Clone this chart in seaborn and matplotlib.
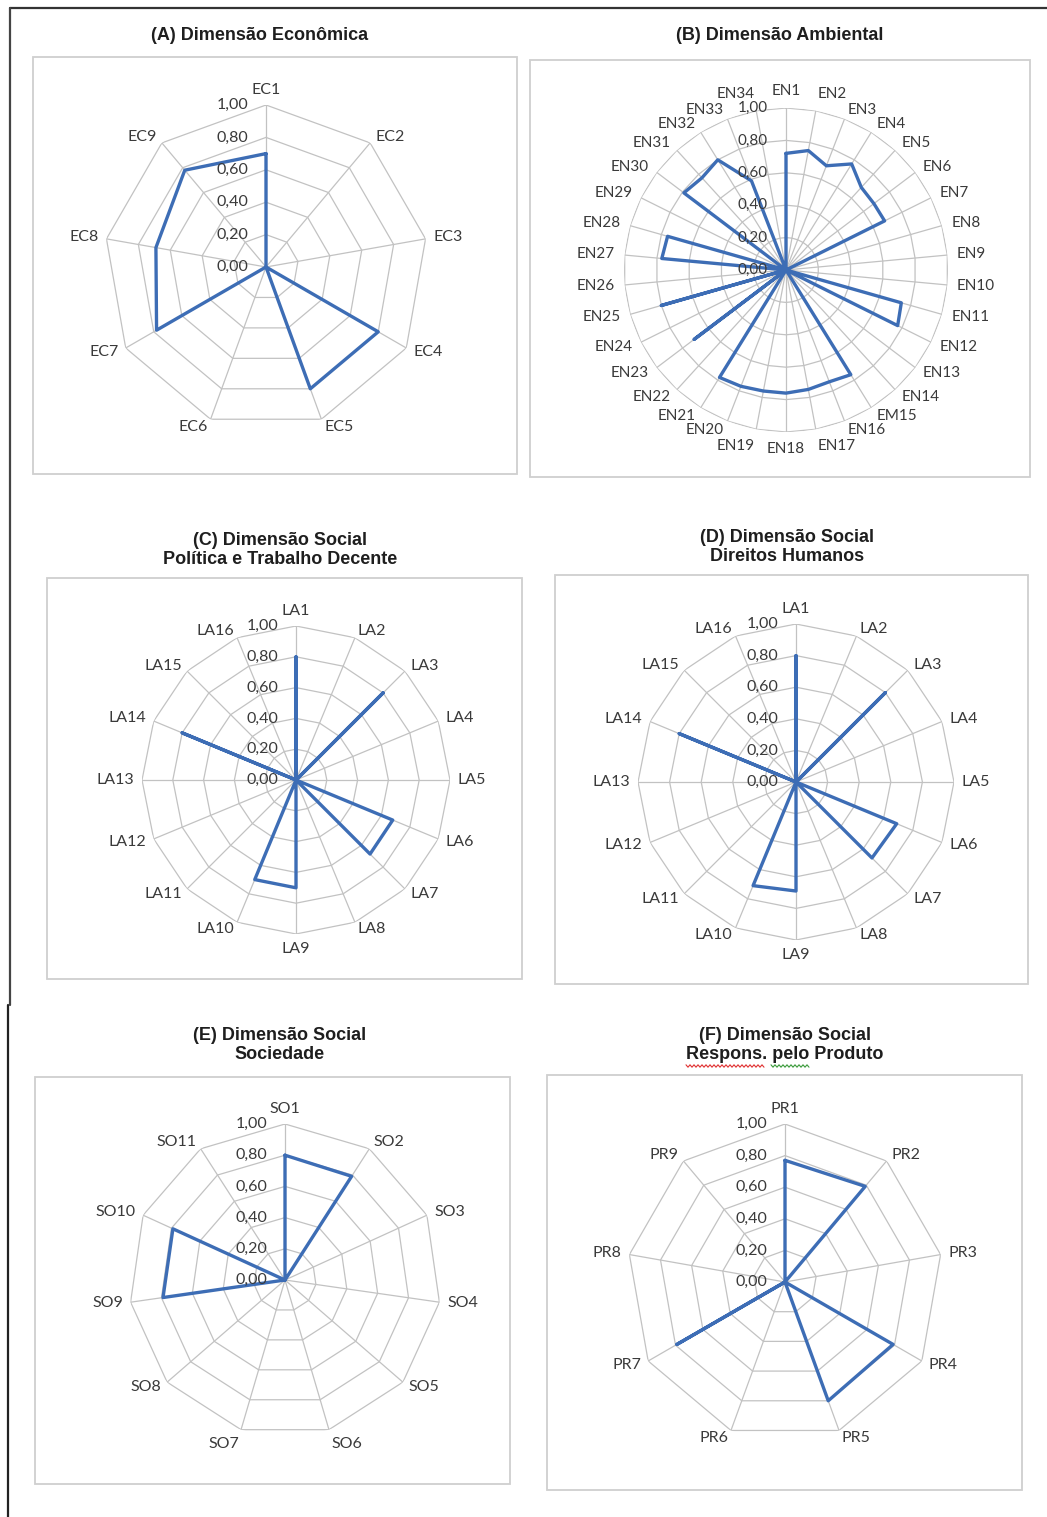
import numpy as np
import matplotlib
matplotlib.use("Agg")
import matplotlib.pyplot as plt
from matplotlib.patches import Rectangle
from matplotlib.lines import Line2D
import seaborn as sns

# ---- data -------------------------------------------------------------
ec_labels = ["EC1", "EC2", "EC3", "EC4", "EC5", "EC6", "EC7", "EC8", "EC9"]
ec_values = [0.70, 0.00, 0.00, 0.80, 0.80, 0.00, 0.78, 0.69, 0.78]

en_labels = ["EN1", "EN2", "EN3", "EN4", "EN5", "EN6", "EN7", "EN8", "EN9",
             "EN10", "EN11", "EN12", "EN13", "EN14", "EM15", "EN16", "EN17",
             "EN18", "EN19", "EN20", "EN21", "EN22", "EN23", "EN24", "EN25",
             "EN26", "EN27", "EN28", "EN29", "EN30", "EN31", "EN32", "EN33",
             "EN34"]
en_values = [0.72, 0.75, 0.69, 0.77, 0.69, 0.68, 0.68, 0.00, 0.00,
             0.00, 0.74, 0.77, 0.00, 0.00, 0.76, 0.74, 0.75,
             0.76, 0.76, 0.77, 0.78, 0.00, 0.71, 0.00, 0.80,
             0.00, 0.77, 0.76, 0.00, 0.79, 0.77, 0.80, 0.59,
             0.00]

la_labels = ["LA1", "LA2", "LA3", "LA4", "LA5", "LA6", "LA7", "LA8",
             "LA9", "LA10", "LA11", "LA12", "LA13", "LA14", "LA15", "LA16"]
la_work_values = [0.80, 0.00, 0.80, 0.00, 0.00, 0.68, 0.68, 0.00,
                  0.70, 0.70, 0.00, 0.00, 0.00, 0.80, 0.00, 0.00]
la_rights_values = [0.80, 0.00, 0.80, 0.00, 0.00, 0.69, 0.68, 0.00,
                    0.69, 0.71, 0.00, 0.00, 0.00, 0.80, 0.00, 0.00]

so_labels = ["SO1", "SO2", "SO3", "SO4", "SO5", "SO6", "SO7", "SO8",
             "SO9", "SO10", "SO11"]
so_values = [0.80, 0.79, 0.00, 0.00, 0.00, 0.00, 0.00, 0.00,
             0.79, 0.79, 0.00]

pr_labels = ["PR1", "PR2", "PR3", "PR4", "PR5", "PR6", "PR7", "PR8", "PR9"]
pr_values = [0.77, 0.79, 0.00, 0.79, 0.80, 0.00, 0.79, 0.00, 0.00]

r_ticks = [0.0, 0.2, 0.4, 0.6, 0.8, 1.0]
r_tick_labels = ["0,00", "0,20", "0,40", "0,60", "0,80", "1,00"]

titles = [
    "(A) Dimensão Econômica",
    "(B) Dimensão Ambiental",
    "(C) Dimensão Social\nPolítica e Trabalho Decente",
    "(D) Dimensão Social\nDireitos Humanos",
    "(E) Dimensão Social\nSociedade",
    "(F) Dimensão Social\nRespons. pelo Produto",
]

# ---- style ------------------------------------------------------------
sns.set_style("white")
plt.rcParams["font.family"] = ["Lato", "DejaVu Sans"]

W, H = 1047, 1517
fig = plt.figure(figsize=(W / 100, H / 100), dpi=100)
fig.patch.set_facecolor("white")

LINE_BLUE = "#3D6DB5"
GRID = "#C2C2C2"
TEXT = "#3A3A3A"
TITLE_FONT = ["Liberation Sans", "DejaVu Sans"]


def fx(x):
    return x / W


def fy(y):
    return 1 - y / H


def radar(labels, values, cx, cy, R, box, title, title_xy,
          label_size=11.5, label_pad=1.05):
    # chart-area frame
    x0, y0, x1, y1 = box
    fig.add_artist(Rectangle((fx(x0), fy(y1)), (x1 - x0) / W, (y1 - y0) / H,
                             transform=fig.transFigure, fill=False,
                             edgecolor="#CFCFCF", lw=1.3))
    fig.text(fx(title_xy[0]), fy(title_xy[1]), title, ha="center", va="center",
             fontsize=13, fontweight="bold", color="#1E1E1E",
             family=TITLE_FONT, linespacing=1.1)

    ax = fig.add_axes([fx(cx - R), fy(cy + R), 2 * R / W, 2 * R / H],
                      projection="polar")
    ax.set_theta_zero_location("N")
    ax.set_theta_direction(-1)
    ax.set_ylim(0, 1)
    ax.grid(False)
    ax.set_xticks([])
    ax.set_yticks([])
    ax.spines["polar"].set_visible(False)
    ax.patch.set_alpha(0)

    n = len(labels)
    theta = np.linspace(0, 2 * np.pi, n, endpoint=False)
    theta_closed = np.append(theta, 2 * np.pi)

    # polygon rings and spokes
    for r in r_ticks[1:]:
        ax.plot(theta_closed, [r] * (n + 1), color=GRID, lw=0.9, zorder=1)
    for t in theta:
        ax.plot([t, t], [0, 1], color=GRID, lw=0.9, zorder=1)

    # series
    vals_closed = list(values) + [values[0]]
    sns.lineplot(x=theta_closed, y=vals_closed, ax=ax, sort=False,
                 estimator=None, color=LINE_BLUE, lw=2.4, zorder=3)
    ax.set_xlabel("")
    ax.set_ylabel("")

    # category labels
    for t, lab in zip(theta, labels):
        s, c = np.sin(t), np.cos(t)
        ha = "left" if s > 0.05 else ("right" if s < -0.05 else "center")
        va = "bottom" if c > 0.95 else ("top" if c < -0.95 else "center")
        ax.text(t, label_pad, lab, ha=ha, va=va, fontsize=label_size,
                color=TEXT, clip_on=False, zorder=4)

    # value axis labels along the first spoke
    for r, lab in zip(r_ticks, r_tick_labels):
        ax.annotate(lab, xy=(0, r), xytext=(-13, 0), textcoords="offset points",
                    ha="right", va="center", fontsize=label_size, color=TEXT,
                    zorder=4)
    return ax


radar(ec_labels, ec_values, 266, 267, 162, (33, 57, 517, 474),
      titles[0], (260, 36))
radar(en_labels, en_values, 786, 270, 162, (530, 60, 1030, 477),
      titles[1], (780, 36), label_size=11, label_pad=1.06)
radar(la_labels, la_work_values, 296, 780, 154, (47, 578, 522, 979),
      titles[2], (280, 550))
radar(la_labels, la_rights_values, 796, 782, 158, (555, 575, 1028, 984),
      titles[3], (787, 547))
radar(so_labels, so_values, 285, 1280, 156, (35, 1077, 510, 1484),
      titles[4], (280, 1045))
radar(pr_labels, pr_values, 785, 1282, 158, (547, 1075, 1022, 1490),
      titles[5], (785, 1045))


# spell-check squiggles under the last title line
def squiggle(xa, xb, y, color):
    xs = np.arange(xa, xb + 0.1, 2.0)
    ys = y + np.where(np.arange(len(xs)) % 2 == 0, -1.2, 1.2)
    fig.add_artist(Line2D(fx(xs), fy(ys), color=color, lw=0.8,
                          transform=fig.transFigure))


squiggle(686, 764, 1066, "#E03030")
squiggle(771, 810, 1066, "#3A9A3A")

# page frame lines
fig.add_artist(Line2D([fx(10), fx(W)], [fy(8), fy(8)], color="#333333", lw=1.6,
                      transform=fig.transFigure))
fig.add_artist(Line2D([fx(10), fx(10)], [fy(8), fy(1005)], color="#444444",
                      lw=1.6, transform=fig.transFigure))
fig.add_artist(Line2D([fx(8), fx(8)], [fy(1005), fy(H)], color="#222222",
                      lw=1.6, transform=fig.transFigure))

fig.savefig("out.png", dpi=100, facecolor="white")
